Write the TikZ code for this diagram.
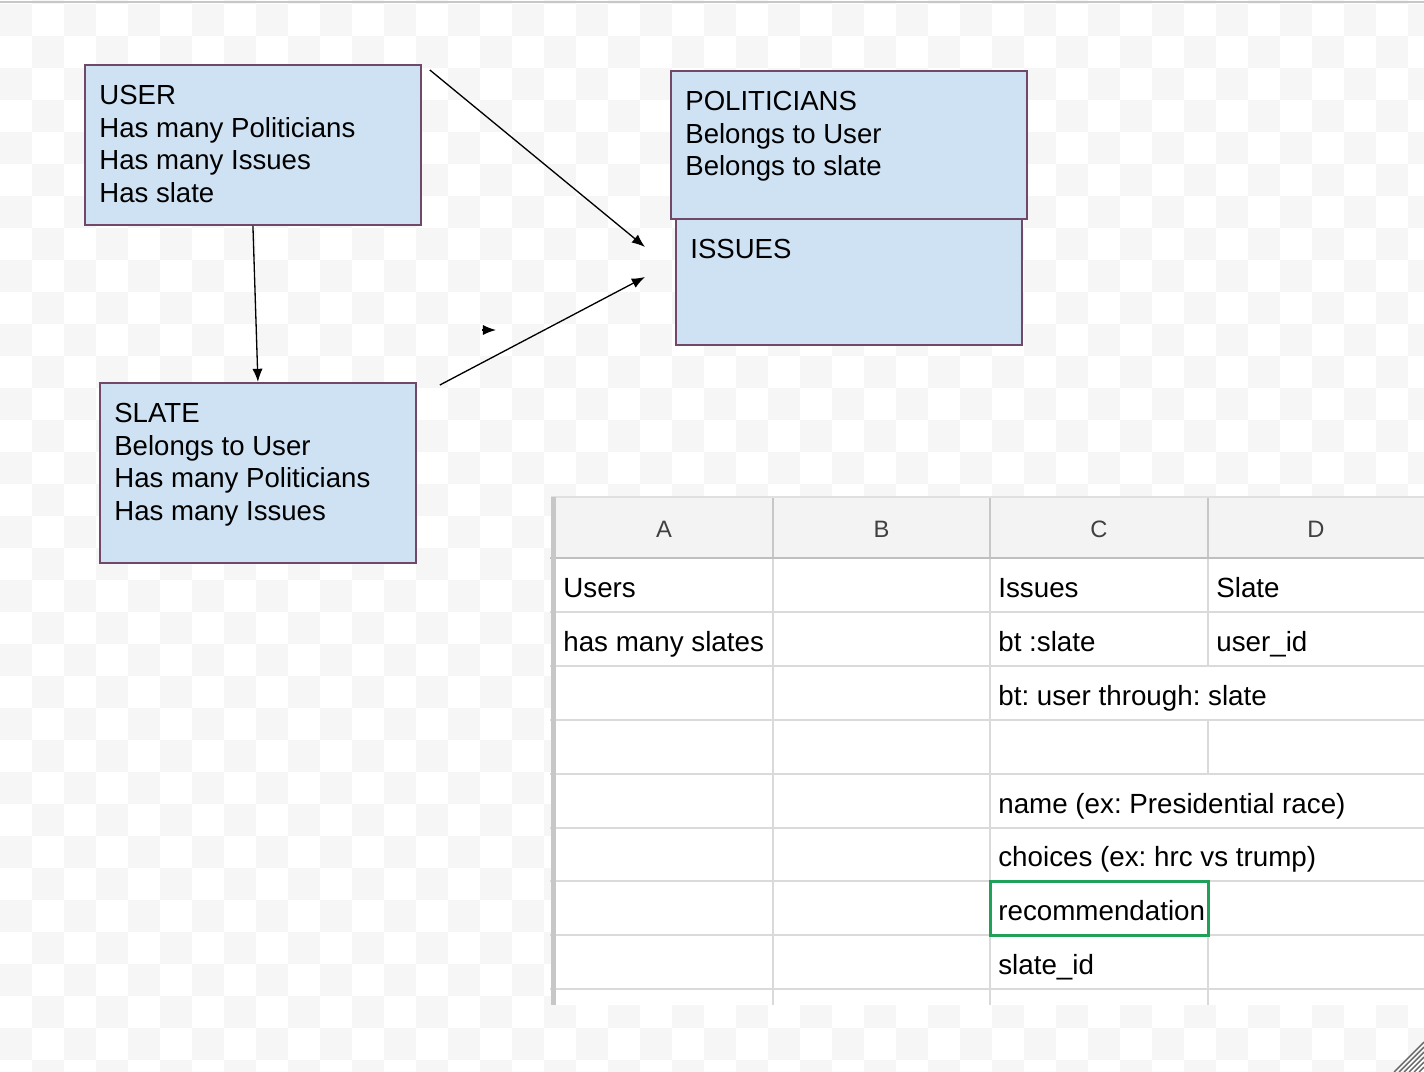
\documentclass[tikz,border=0pt]{standalone}
\usepackage{fontspec}
\setmainfont{Liberation Sans}
\usetikzlibrary{positioning,calc,arrows.meta}
\definecolor{boxblue}{RGB}{207,226,243}
\definecolor{boxedge}{RGB}{112,72,104}
\definecolor{gridgray}{RGB}{218,218,218}
\definecolor{headgray}{RGB}{243,243,243}
\definecolor{checkgray}{RGB}{246,246,246}
\definecolor{selgreen}{RGB}{33,160,90}
\frenchspacing

\tikzset{
	entity/.style={rectangle,draw=boxedge,fill=boxblue,line width=1.1pt,inner sep=0pt,anchor=north west},
	entitytext/.style={inner sep=0pt,align=left,font=\fontsize{15.7}{18.5}\selectfont,anchor=north west},
	link/.style={black,line width=0.75pt,-{Latex[length=7.5pt,width=5.8pt]}},
	cell/.style={inner sep=0pt,anchor=base west,font=\fontsize{15.8}{18}\selectfont},
	colhead/.style={inner sep=0pt,anchor=base,font=\fontsize{13.5}{16}\selectfont,text=black!75},
	gridline/.style={gridgray,line width=1.2pt},
}

\begin{document}
\begin{tikzpicture}[x=0.02cm,y=-0.02cm]
		\useasboundingbox (0,0) rectangle (1424,1072);
		
		% checker background
		\begin{scope}
			\clip (0,0) rectangle (1424,1072);
			\foreach \a in {0,...,22}
			\foreach \b in {-1,...,16}{
				\fill[checkgray] (64*\a,4+64*\b) rectangle +(32,32);
				\fill[checkgray] (64*\a+32,36+64*\b) rectangle +(32,32);
			}
		\end{scope}
		\draw[black!22,line width=1.2pt] (0,2) -- (1424,2);
		
		\node[entity,minimum width=6.92cm,minimum height=2.52cm] (issues) at (675,218) {};
		\node[entity,minimum width=7.12cm,minimum height=2.96cm] (politicians) at (670,70) {};
		\node[entity,minimum width=6.72cm,minimum height=3.2cm] (user) at (84,64) {};
		\node[entity,minimum width=6.32cm,minimum height=3.6cm] (slate) at (99,382) {};
		
		\node[entitytext,below right=0.42cm and 0.3cm of user.north west] (user text) {USER\\Has many Politicians\\Has many Issues\\Has slate};
		\node[entitytext,below right=0.42cm and 0.3cm of politicians.north west] (politicians text) {POLITICIANS\\Belongs to User\\Belongs to slate};
		\node[entitytext,below right=0.42cm and 0.3cm of issues.north west] (issues text) {ISSUES};
		\node[entitytext,below right=0.42cm and 0.3cm of slate.north west] (slate text) {SLATE\\Belongs to User\\Has many Politicians\\Has many Issues};
		
		\coordinate (tail a) at ($(user.north east)+(8,6)$);
		\coordinate (tip a) at ($(issues.north west)+(-30,29)$);
		\coordinate (tail b) at ($(slate.north east)+(23,3)$);
		\coordinate (tip b) at ($(issues.north west)+(-30,59)$);
		\coordinate (stray) at (482,330);
		\coordinate (stray end) at (496,330);
		
		\draw[link] (tail a) -- (tip a);
		\draw[link] (user.south) -- (slate.north);
		\draw[link] (tail b) -- (tip b);
		\draw[link] (stray) -- (stray end);
		
		% sheet
		\fill[white] (551,497) rectangle (1424,1005);
		\fill[headgray] (555,498) rectangle (1424,558);
		\draw[black!12,line width=1pt] (551,497) -- (1424,497);
		\foreach \y in {612,666,720,774,828,881,935,989}
		\draw[gridline] (550,\y) -- (1424,\y);
		\foreach \x in {773,990}
		\draw[gridline] (\x,558) -- (\x,1005);
		\draw[gridline] (1208,558) -- (1208,666);
		\draw[gridline] (1208,720) -- (1208,774);
		\draw[gridline] (1208,881) -- (1208,1005);
		\foreach \x in {773,990,1208}
		\draw[black!22,line width=1.2pt] (\x,498) -- (\x,558);
		\draw[black!25,line width=1.5pt] (550,558) -- (1424,558);
		\fill[black!22] (551,497) rectangle (556,1005);
		
		\foreach \c/\x in {A/664,B/881.5,C/1099,D/1316}
		\node[colhead] (head \c) at (\x,537) {\c};
		
		\node[cell] (users) at (563,597) {Users};
		\node[cell] (issues head) at (998,597) {Issues};
		\node[cell] (slate head) at (1216,597) {Slate};
		\node[cell] (users slates) at (563,651) {has many slates};
		\node[cell] (issues bt) at (998,651) {bt :slate};
		\node[cell] (slate user) at (1216,651) {user\_id};
		\node[cell] (issues through) at (998,705) {bt: user through: slate};
		\node[cell] (issues name) at (998,813) {name (ex: Presidential race)};
		\node[cell] (issues choices) at (998,866) {choices (ex: hrc vs trump)};
		\node[cell] (issues rec) at (998,920) {recommendation};
		\node[cell] (issues slate) at (998,974) {slate\_id};
		
		\draw[selgreen,line width=1.7pt] (990,881) rectangle (1208,935);
		
		\foreach \k in {5,10,...,30}
		\draw[black!60,line width=0.8pt] (1424-\k,1072) -- (1424,1072-\k);
		
\end{tikzpicture}
\end{document}
